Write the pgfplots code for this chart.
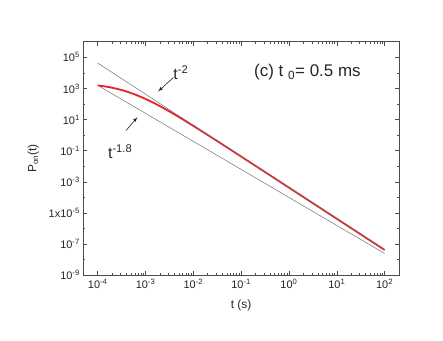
\documentclass[border=0pt]{standalone}
\usepackage{pgfplots}
\pgfplotsset{compat=1.18}
\usepackage{fontspec}
\setmainfont{Liberation Sans}
\definecolor{curvered}{HTML}{E8202A}
\definecolor{fitgray}{HTML}{707070}

\begin{document}
\begin{tikzpicture}
\path[use as bounding box] (-83.3bp,-65.7bp) rectangle (359.7bp,275.3bp);
\begin{axis}[
    at={(0,0)}, anchor=south west,
    scale only axis,
    width=315.7bp, height=233.6bp,
    xmode=log, ymode=log,
    xmin=5e-5, xmax=200,
    ymin=1e-9, ymax=1e6,
    xtick={1e-4,1e-3,1e-2,1e-1,1,10,100},
    xticklabels={10\textsuperscript{-4},10\textsuperscript{-3},10\textsuperscript{-2},10\textsuperscript{-1},10\textsuperscript{0},10\textsuperscript{1},10\textsuperscript{2}},
    ytick={1e-9,1e-7,1e-5,1e-3,1e-1,1e1,1e3,1e5},
    yticklabels={10\textsuperscript{-9},10\textsuperscript{-7},1x10\textsuperscript{-5},10\textsuperscript{-3},10\textsuperscript{-1},10\textsuperscript{1},10\textsuperscript{3},10\textsuperscript{5}},
    minor ytick={1e-8,1e-6,1e-4,1e-2,1,1e2,1e4,1e6},
    tick align=inside,
    major tick length=4pt, minor tick length=2pt,
    axis line style={draw=black!70, line width=0.6pt},
    every tick/.style={black!70, line width=0.5pt},
    tick label style={font=\fontsize{11}{12}\selectfont, text=black!85},
    xlabel={t (s)},
    ylabel={P\textsubscript{on}(t)},
    label style={font=\fontsize{12}{14}\selectfont, text=black!85},
    xlabel style={yshift=-5bp},
    ylabel style={yshift=3bp},
    clip=false,
]
% red curve P_on(t)
\addplot[curvered, line width=1.8pt, smooth] coordinates {
    (1e-4,1578) (1.778e-4,1194) (3.162e-4,787) (5.623e-4,442)
    (1e-3,211) (1.778e-3,88.3) (3.162e-3,33.2) (5.623e-3,11.7)
    (1e-2,3.93) (1.778e-2,1.283) (3.162e-2,0.415) (5.623e-2,0.1327)
    (1e-1,0.04227) (3.162e-1,4.25e-3) (1,4.26e-4) (3.162,4.27e-5)
    (10,4.27e-6) (31.62,4.27e-7) (100,4.27e-8)
};
% t^-2 guide
\addplot[fitgray, line width=0.5pt] coordinates {(1e-4,42660) (100,4.27e-8)};
% t^-1.8 guide
\addplot[fitgray, line width=0.5pt] coordinates {(1e-4,1585) (100,2.51e-8)};

\node[font=\fontsize{16}{18}\selectfont, text=black!85] at (axis cs:5.5e-3,1e4) {t\textsuperscript{-2}};
\draw[-latex, black!85, line width=0.6pt] (axis cs:3.84e-3,5e3) -- (axis cs:1.84e-3,6.5e2);
\node[font=\fontsize{16}{18}\selectfont, text=black!85] at (axis cs:2.95e-4,0.089) {t\textsuperscript{-1.8}};
\draw[-latex, black!85, line width=0.6pt] (axis cs:3.9e-4,1.95) -- (axis cs:6.76e-4,14);
\node[font=\fontsize{17}{19}\selectfont, text=black!85] at (axis cs:2.43,1.1e4) {(c) t \textsubscript{0}= 0.5 ms};
\end{axis}
\end{tikzpicture}
\end{document}
